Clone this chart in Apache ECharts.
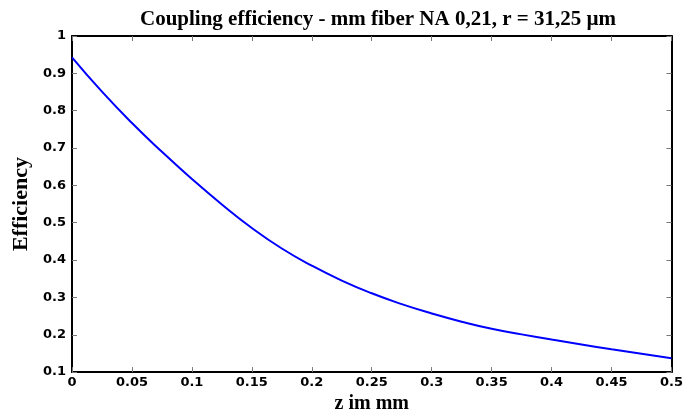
<!DOCTYPE html>
<html>
<head>
<meta charset="utf-8">
<script src="https://cdn.jsdelivr.net/npm/echarts@6/dist/echarts.min.js"></script>
<style>
    html, body { margin: 0; padding: 0; background: #fff; }
    #chart { width: 686px; height: 419px; }
</style>
</head>
<body>
<div id="chart"></div>
<script>
// z in mm
var zValues = [0, 0.025, 0.05, 0.075, 0.1, 0.125, 0.15, 0.175, 0.2, 0.225, 0.25,
    0.275, 0.3, 0.325, 0.35, 0.375, 0.4, 0.425, 0.45, 0.475, 0.5];
// coupling efficiency
var efficiency = [0.943, 0.851, 0.767, 0.69, 0.617, 0.549, 0.486, 0.431, 0.385, 0.345, 0.311,
    0.282, 0.257, 0.235, 0.216, 0.201, 0.187, 0.174, 0.161, 0.149, 0.137];
var xTicks = [0, 0.05, 0.1, 0.15, 0.2, 0.25, 0.3, 0.35, 0.4, 0.45, 0.5];
var yTicks = [0.1, 0.2, 0.3, 0.4, 0.5, 0.6, 0.7, 0.8, 0.9, 1];

var myChart = echarts.init(document.getElementById('chart'));

var points = [];
for (var i = 0; i < zValues.length; i++) {
    points.push([zValues[i], efficiency[i]]);
}

var serifFont = 'Liberation Serif, Times New Roman, serif';
var tickFont = {
    color: '#000',
    fontFamily: 'DejaVu Sans, sans-serif',
    fontSize: 13,
    fontWeight: 'bold'
};

function fmt(v) {
    return String(Math.round(v * 100) / 100);
}

// shared look for the box axes (MATLAB style, ticks inside)
var boxLine = { show: true, onZero: false, lineStyle: { color: '#000', width: 2 } };
var boxTick = { show: true, inside: true, length: 5, lineStyle: { color: '#777' } };

var option = {
    animation: false,
    backgroundColor: '#fff',
    title: {
        text: 'Coupling efficiency - mm fiber NA 0,21, r = 31,25 µm',
        left: 373,
        textAlign: 'center',
        top: 4,
        textStyle: {
            fontFamily: serifFont,
            fontSize: 21,
            fontWeight: 'bold',
            color: '#000'
        }
    },
    grid: {
        left: 72,
        right: 14,
        top: 36,
        bottom: 38
    },
    xAxis: [
        {
            type: 'value',
            min: xTicks[0],
            max: xTicks[xTicks.length - 1],
            interval: 0.05,
            name: 'z im mm',
            nameLocation: 'middle',
            nameGap: 19,
            nameTextStyle: {
                fontFamily: serifFont,
                fontSize: 20,
                fontWeight: 'bold',
                color: '#000'
            },
            axisLine: boxLine,
            axisTick: boxTick,
            axisLabel: Object.assign({ margin: 4, formatter: fmt }, tickFont),
            splitLine: { show: false }
        },
        {
            type: 'value',
            position: 'top',
            min: xTicks[0],
            max: xTicks[xTicks.length - 1],
            interval: 0.05,
            axisLine: boxLine,
            axisTick: boxTick,
            axisLabel: { show: false },
            splitLine: { show: false }
        }
    ],
    yAxis: [
        {
            type: 'value',
            min: yTicks[0],
            max: yTicks[yTicks.length - 1],
            interval: 0.1,
            name: 'Efficiency',
            nameLocation: 'middle',
            nameGap: 39,
            nameTextStyle: {
                fontFamily: serifFont,
                fontSize: 22,
                fontWeight: 'bold',
                color: '#000'
            },
            axisLine: boxLine,
            axisTick: boxTick,
            axisLabel: Object.assign({ margin: 6, formatter: fmt }, tickFont),
            splitLine: { show: false }
        },
        {
            type: 'value',
            position: 'right',
            min: yTicks[0],
            max: yTicks[yTicks.length - 1],
            interval: 0.1,
            axisLine: boxLine,
            axisTick: boxTick,
            axisLabel: { show: false },
            splitLine: { show: false }
        }
    ],
    series: [
        {
            type: 'line',
            data: points,
            smooth: 0.5,
            showSymbol: false,
            lineStyle: { color: '#0000ff', width: 2 }
        }
    ]
};
myChart.setOption(option);
</script>
</body>
</html>
